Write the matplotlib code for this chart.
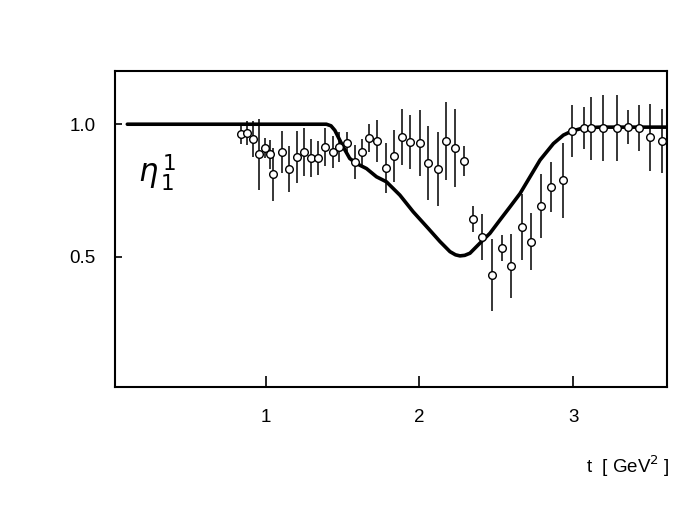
import numpy as np
import matplotlib
matplotlib.use("Agg")
from matplotlib import pyplot as plt

plt.rcParams['font.family'] = ['Liberation Sans Narrow', 'Liberation Sans', 'DejaVu Sans']

# measured points (t, eta, error)
t_data = [0.839, 0.881, 0.917, 0.954, 0.993, 1.026, 1.048, 1.104, 1.154, 1.204,
          1.248, 1.293, 1.343, 1.386, 1.441, 1.478, 1.526, 1.584, 1.625, 1.671,
          1.726, 1.786, 1.838, 1.888, 1.938, 2.003, 2.055, 2.119, 2.175, 2.233,
          2.292, 2.351, 2.407, 2.470, 2.536, 2.594, 2.666, 2.728, 2.790, 2.858,
          2.932, 2.992, 3.074, 3.119, 3.197, 3.287, 3.360, 3.432, 3.502, 3.578]
eta_data = [0.962, 0.966, 0.944, 0.886, 0.911, 0.886, 0.811, 0.894, 0.832, 0.877,
            0.895, 0.873, 0.871, 0.914, 0.895, 0.915, 0.930, 0.858, 0.894, 0.948,
            0.937, 0.836, 0.880, 0.951, 0.933, 0.930, 0.855, 0.832, 0.935, 0.911,
            0.861, 0.642, 0.574, 0.433, 0.535, 0.466, 0.612, 0.558, 0.691, 0.764,
            0.788, 0.974, 0.984, 0.984, 0.986, 0.986, 0.990, 0.986, 0.950, 0.936]
eta_err = [0.038, 0.045, 0.068, 0.135, 0.038, 0.053, 0.100, 0.079, 0.086, 0.098,
           0.090, 0.071, 0.064, 0.071, 0.060, 0.056, 0.040, 0.064, 0.049, 0.053,
           0.079, 0.094, 0.098, 0.105, 0.100, 0.124, 0.139, 0.139, 0.147, 0.147,
           0.056, 0.049, 0.086, 0.135, 0.049, 0.120, 0.124, 0.109, 0.120, 0.094,
           0.143, 0.098, 0.079, 0.120, 0.124, 0.124, 0.064, 0.086, 0.128, 0.120]

# model curve
t_fit = [0.10, 1.395, 1.425, 1.45, 1.504, 1.547, 1.591, 1.656, 1.721, 1.786, 1.873,
         1.960, 2.057, 2.134, 2.199, 2.235, 2.264, 2.295, 2.329, 2.394, 2.459, 2.524, 2.590,
         2.655, 2.720, 2.785, 2.872, 2.937, 2.991, 3.067, 3.176, 3.61]
eta_fit = [1.0, 1.0, 0.994, 0.977, 0.915, 0.871, 0.852, 0.833, 0.802, 0.783, 0.733,
           0.670, 0.608, 0.558, 0.520, 0.508, 0.504, 0.506, 0.514, 0.552, 0.589, 0.639, 0.689,
           0.739, 0.802, 0.865, 0.927, 0.959, 0.974, 0.986, 0.989, 0.989]

fig = plt.figure(figsize=(6.95, 5.23), dpi=100)
ax = fig.add_axes([0.1655, 0.26, 0.794, 0.604])

ax.plot(t_fit, eta_fit, color='black', lw=2.6, solid_joinstyle='round',
        solid_capstyle='round', zorder=2)
ax.errorbar(t_data, eta_data, yerr=eta_err, fmt='o', ms=5.5, mfc='white',
            mec='black', mew=1.0, ecolor='black', elinewidth=1.1, capsize=0,
            zorder=3)

ax.set_xlim(0.02, 3.61)
ax.set_ylim(0.01, 1.2)
ax.set_xticks([1, 2, 3])
ax.set_xticklabels(['1', '2', '3'])
ax.set_yticks([0.5, 1.0])
ax.set_yticklabels(['0.5', '1.0'])
ax.tick_params(axis='x', direction='in', length=8, width=1.2, pad=16, labelsize=13.5)
ax.tick_params(axis='y', direction='in', length=5, width=1.2, pad=14, labelsize=13.5)
for s in ax.spines.values():
    s.set_linewidth(1.5)

ax.text(0.17, 0.82, r'$\eta_{\,1}^{\,1}$', fontsize=22, ha='left', va='center')
ax.text(1.005, -0.25, r't  [ GeV$^{2}$ ]', transform=ax.transAxes,
        ha='right', va='center', fontsize=13.5)

fig.savefig('out.png', dpi=100)
